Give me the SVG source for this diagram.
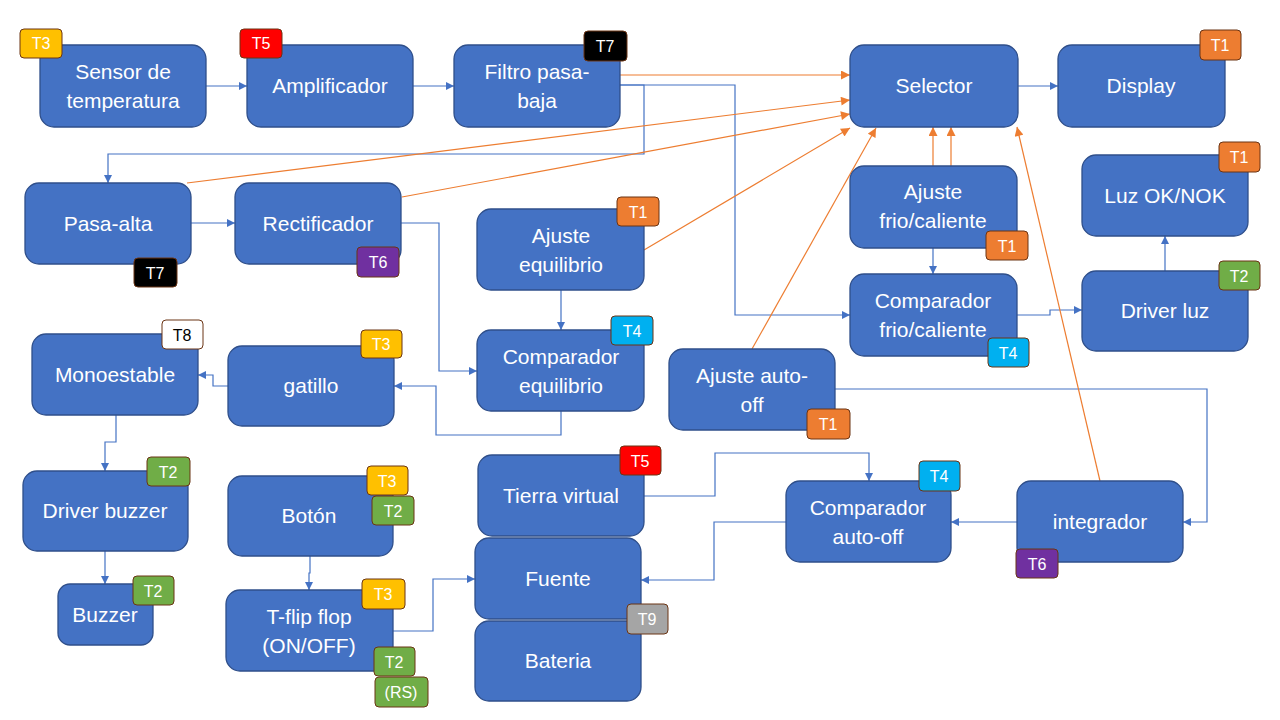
<svg xmlns="http://www.w3.org/2000/svg" width="1280" height="720" viewBox="0 0 1280 720">
<defs>
<marker id="ab" viewBox="0 0 10 10" refX="10" refY="5" markerWidth="9" markerHeight="8" markerUnits="userSpaceOnUse" orient="auto"><path d="M0,0 L10,5 L0,10 z" fill="#4472C4"/></marker>
<marker id="ao" viewBox="0 0 10 10" refX="10" refY="5" markerWidth="10" markerHeight="9" markerUnits="userSpaceOnUse" orient="auto"><path d="M0,0 L10,5 L0,10 z" fill="#ED7D31"/></marker>
</defs>
<style>
.n{fill:#4472C4;stroke:#2F4F8A;stroke-width:1.3}
.t{fill:#fff;font-family:"Liberation Sans",Arial,sans-serif;font-size:21px;text-anchor:middle}
.b{stroke:#6B3414;stroke-width:1}
.bt{fill:#fff;font-family:"Liberation Sans",Arial,sans-serif;font-size:16px;text-anchor:middle}
.cb{fill:none;stroke:#4472C4;stroke-width:1.2;marker-end:url(#ab)}
.co{fill:none;stroke:#ED7D31;stroke-width:1.2;marker-end:url(#ao)}
.T1{fill:#ED7D31}.T2{fill:#70AD47}.T3{fill:#FFC000}.T4{fill:#00B0F0}.T5{fill:#FF0000}.T6{fill:#7030A0}.T7{fill:#000}.T8{fill:#fff}.T9{fill:#A5A5A5}
</style>
<rect width="1280" height="720" fill="#fff"/>
<g id="connectors">
<path class="cb" d="M206,86 H247"/>
<path class="cb" d="M413,86 H454"/>
<path class="cb" d="M1018,86 H1058"/>
<path class="cb" d="M620,85 H644 V154 H108 V183"/>
<path class="cb" d="M620,85 H735 V315 H850"/>
<path class="cb" d="M191,223 H235"/>
<path class="cb" d="M401,223 H439 V371 H477"/>
<path class="cb" d="M561,290 V330"/>
<path class="cb" d="M561,411 V435 H436 V386 H394"/>
<path class="cb" d="M228,386 H213 V375 H198"/>
<path class="cb" d="M116,415 V442 H105 V471"/>
<path class="cb" d="M105,551 V584"/>
<path class="cb" d="M310,556 V573 H309 V590"/>
<path class="cb" d="M393,631 H433 V579 H475"/>
<path class="cb" d="M644,496 H715 V453 H869 V481"/>
<path class="cb" d="M786,522 H714 V580 H641"/>
<path class="cb" d="M1017,522 H951"/>
<path class="cb" d="M835,389 H1207 V522 H1183"/>
<path class="cb" d="M933,248 V274"/>
<path class="cb" d="M1017,315 H1050 V310 H1082"/>
<path class="cb" d="M1165,271 V236"/>
<path class="co" d="M620,75 H850"/>
<path class="co" d="M187,183 L850,100"/>
<path class="co" d="M402,197 L850,114"/>
<path class="co" d="M644,250 L850,128"/>
<path class="co" d="M752,349 L876,128"/>
<path class="co" d="M933,167 V127"/>
<path class="co" d="M951,167 V127"/>
<path class="co" d="M1100,481 L1017,127"/>
</g>
<g id="sensor"><rect class="n" x="40" y="45" width="166" height="82" rx="14"/><text class="t" x="123" y="79">Sensor de</text><text class="t" x="123" y="108">temperatura</text>
<rect class="b T3" x="20" y="29" width="42" height="29" rx="4"/><text class="bt" x="41" y="49">T3</text></g>
<g id="amplificador"><rect class="n" x="247" y="45" width="166" height="82" rx="14"/><text class="t" x="330" y="93">Amplificador</text>
<rect class="b T5" x="240" y="29" width="42" height="29" rx="4"/><text class="bt" x="261" y="49">T5</text></g>
<g id="filtro"><rect class="n" x="454" y="45" width="166" height="82" rx="14"/><text class="t" x="537" y="79">Filtro pasa-</text><text class="t" x="537" y="108">baja</text>
<rect class="b T7" x="584" y="31" width="43" height="30" rx="4"/><text class="bt" x="605" y="52">T7</text></g>
<g id="selector"><rect class="n" x="850" y="45" width="168" height="82" rx="14"/><text class="t" x="934" y="93">Selector</text></g>
<g id="display"><rect class="n" x="1058" y="45" width="167" height="82" rx="14"/><text class="t" x="1141" y="93">Display</text>
<rect class="b T1" x="1200" y="30" width="41" height="30" rx="4"/><text class="bt" x="1220" y="51">T1</text></g>
<g id="pasa-alta"><rect class="n" x="25" y="183" width="166" height="81" rx="14"/><text class="t" x="108" y="231">Pasa-alta</text>
<rect class="b T7" x="134" y="258" width="43" height="29" rx="4"/><text class="bt" x="155" y="279">T7</text></g>
<g id="rectificador"><rect class="n" x="235" y="183" width="166" height="81" rx="14"/><text class="t" x="318" y="231">Rectificador</text>
<rect class="b T6" x="357" y="247" width="42" height="30" rx="4"/><text class="bt" x="378" y="268">T6</text></g>
<g id="ajuste-equilibrio"><rect class="n" x="477" y="209" width="167" height="81" rx="14"/><text class="t" x="561" y="243">Ajuste</text><text class="t" x="561" y="272">equilibrio</text>
<rect class="b T1" x="617" y="197" width="42" height="29" rx="4"/><text class="bt" x="638" y="218">T1</text></g>
<g id="comparador-equilibrio"><rect class="n" x="477" y="330" width="167" height="81" rx="14"/><text class="t" x="561" y="364">Comparador</text><text class="t" x="561" y="393">equilibrio</text>
<rect class="b T4" x="611" y="316" width="42" height="29" rx="4"/><text class="bt" x="632" y="337">T4</text></g>
<g id="gatillo"><rect class="n" x="228" y="346" width="166" height="80" rx="14"/><text class="t" x="311" y="393">gatillo</text>
<rect class="b T3" x="361" y="330" width="41" height="28" rx="4"/><text class="bt" x="381" y="350">T3</text></g>
<g id="monoestable"><rect class="n" x="32" y="334" width="166" height="81" rx="14"/><text class="t" x="115" y="382">Monoestable</text>
<rect class="b T8" x="162" y="320" width="41" height="29" rx="4"/><text class="bt" x="182" y="341" fill="#000" style="fill:#000">T8</text></g>
<g id="driver-buzzer"><rect class="n" x="23" y="471" width="165" height="80" rx="14"/><text class="t" x="105" y="518">Driver buzzer</text>
<rect class="b T2" x="147" y="457" width="43" height="29" rx="4"/><text class="bt" x="168" y="478">T2</text></g>
<g id="buzzer"><rect class="n" x="58" y="584" width="95" height="61" rx="12"/><text class="t" x="105" y="622">Buzzer</text>
<rect class="b T2" x="133" y="576" width="41" height="29" rx="4"/><text class="bt" x="153" y="597">T2</text></g>
<g id="boton"><rect class="n" x="228" y="476" width="165" height="80" rx="14"/><text class="t" x="309" y="523">Botón</text>
<rect class="b T3" x="367" y="466" width="41" height="29" rx="4"/><text class="bt" x="387" y="487">T3</text>
<rect class="b T2" x="372" y="496" width="42" height="29" rx="4"/><text class="bt" x="393" y="517">T2</text></g>
<g id="t-flip-flop"><rect class="n" x="226" y="590" width="167" height="81" rx="14"/><text class="t" x="309" y="624">T-flip flop</text><text class="t" x="309" y="653">(ON/OFF)</text>
<rect class="b T3" x="362" y="579" width="43" height="30" rx="4"/><text class="bt" x="383" y="600">T3</text>
<rect class="b T2" x="374" y="647" width="41" height="29" rx="4"/><text class="bt" x="394" y="668">T2</text>
<rect class="b T2" x="375" y="677" width="53" height="30" rx="4"/><text class="bt" x="401" y="698">(RS)</text></g>
<g id="tierra-virtual"><rect class="n" x="478" y="455" width="166" height="81" rx="14"/><text class="t" x="561" y="503">Tierra virtual</text>
<rect class="b T5" x="620" y="446" width="41" height="29" rx="4"/><text class="bt" x="640" y="467">T5</text></g>
<g id="fuente"><rect class="n" x="475" y="538" width="166" height="81" rx="14"/><text class="t" x="558" y="586">Fuente</text></g>
<g id="bateria"><rect class="n" x="475" y="621" width="166" height="80" rx="14"/><text class="t" x="558" y="668">Bateria</text>
<rect class="b T9" x="627" y="604" width="41" height="30" rx="4"/><text class="bt" x="647" y="625">T9</text></g>
<g id="ajuste-frio-caliente"><rect class="n" x="850" y="166" width="167" height="82" rx="14"/><text class="t" x="933" y="199">Ajuste</text><text class="t" x="933" y="228">frio/caliente</text>
<rect class="b T1" x="986" y="231" width="42" height="29" rx="4"/><text class="bt" x="1007" y="252">T1</text></g>
<g id="comparador-frio-caliente"><rect class="n" x="850" y="274" width="167" height="82" rx="14"/><text class="t" x="933" y="308">Comparador</text><text class="t" x="933" y="337">frio/caliente</text>
<rect class="b T4" x="988" y="338" width="41" height="29" rx="4"/><text class="bt" x="1008" y="359">T4</text></g>
<g id="luz"><rect class="n" x="1082" y="155" width="166" height="81" rx="14"/><text class="t" x="1165" y="203">Luz OK/NOK</text>
<rect class="b T1" x="1219" y="142" width="41" height="30" rx="4"/><text class="bt" x="1239" y="163">T1</text></g>
<g id="driver-luz"><rect class="n" x="1082" y="271" width="166" height="80" rx="14"/><text class="t" x="1165" y="318">Driver luz</text>
<rect class="b T2" x="1219" y="261" width="41" height="29" rx="4"/><text class="bt" x="1239" y="282">T2</text></g>
<g id="ajuste-auto-off"><rect class="n" x="669" y="349" width="166" height="81" rx="14"/><text class="t" x="752" y="383">Ajuste auto-</text><text class="t" x="752" y="412">off</text>
<rect class="b T1" x="807" y="409" width="43" height="30" rx="4"/><text class="bt" x="828" y="430">T1</text></g>
<g id="comparador-auto-off"><rect class="n" x="786" y="481" width="165" height="81" rx="14"/><text class="t" x="868" y="515">Comparador</text><text class="t" x="868" y="544">auto-off</text>
<rect class="b T4" x="919" y="461" width="41" height="30" rx="4"/><text class="bt" x="939" y="482">T4</text></g>
<g id="integrador"><rect class="n" x="1017" y="481" width="166" height="81" rx="14"/><text class="t" x="1100" y="529">integrador</text>
<rect class="b T6" x="1016" y="549" width="42" height="29" rx="4"/><text class="bt" x="1037" y="570">T6</text></g>
</svg>
